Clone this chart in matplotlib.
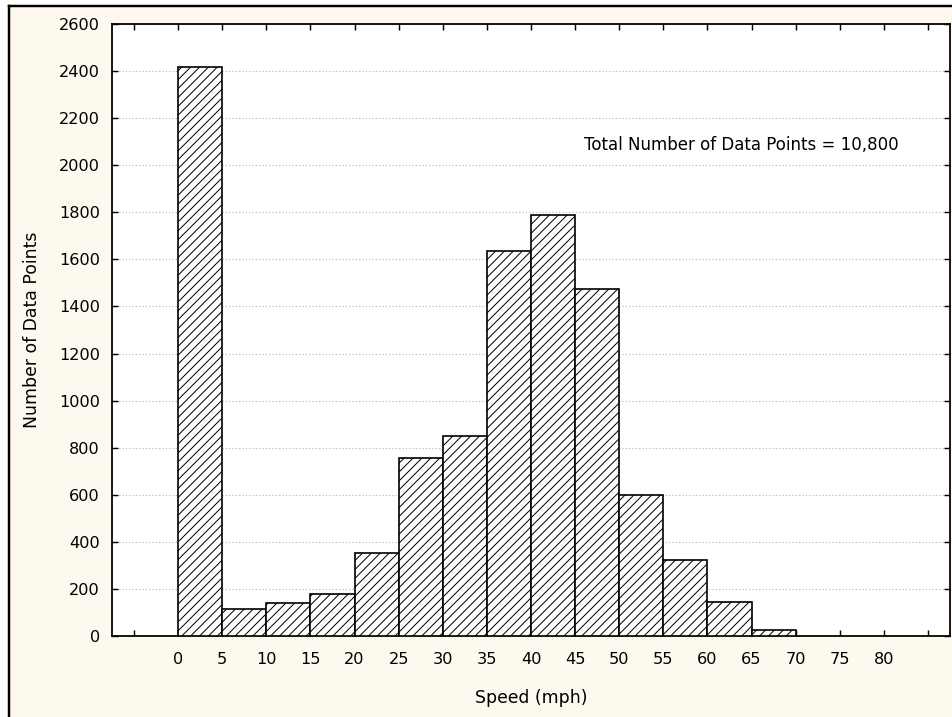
import numpy as np
import matplotlib
matplotlib.use('Agg')
import matplotlib.pyplot as plt
from matplotlib.lines import Line2D
from matplotlib.patches import Rectangle

# speed bins (mph), left edges, and counts
binLeft = [0, 5, 10, 15, 20, 25, 30, 35, 40, 45, 50, 55, 60, 65]
counts = [2418, 113, 139, 177, 351, 755, 849, 1636, 1787, 1473, 598, 321, 146, 25]
binWidth = 5
xTicks = list(range(-5, 90, 5))
xTickLabels = ['' if (t < 0 or t > 80) else str(t) for t in xTicks]
yTicks = list(range(0, 2601, 200))
noteText = 'Total Number of Data Points = 10,800'

plt.rcParams['font.family'] = ['DejaVu Sans']
plt.rcParams['hatch.linewidth'] = 0.9

fig = plt.figure(figsize=(952 / 80, 717 / 80), dpi=80, facecolor='white')

# cream panel with black top/left frame
fig.add_artist(Rectangle((9 / 952, 0), 1, 1 - 6 / 717, transform=fig.transFigure,
                         facecolor='#fdf9ee', edgecolor='none', zorder=-10))
fig.add_artist(Line2D([9 / 952, 1], [1 - 6 / 717, 1 - 6 / 717], transform=fig.transFigure,
                      color='black', linewidth=2.2, zorder=-5))
fig.add_artist(Line2D([9 / 952, 9 / 952], [0, 1 - 6 / 717], transform=fig.transFigure,
                      color='black', linewidth=2.2, zorder=-5))

ax = fig.add_axes([112 / 952, 1 - 636 / 717, (950 - 112) / 952, (636 - 24) / 717])
ax.set_facecolor('white')

ax.bar(binLeft, counts, width=binWidth, align='edge', color='white',
       edgecolor='black', linewidth=1.5, hatch='///', zorder=3)

ax.set_xlim(-7.5, 87.5)
ax.set_ylim(0, 2600)
ax.set_xticks(xTicks)
ax.set_xticklabels(xTickLabels)
ax.set_yticks(yTicks)

ax.yaxis.grid(True, linestyle=(0, (1, 2)), color='#b4b4b4', linewidth=1.0, zorder=0)
ax.set_axisbelow(True)

ax.tick_params(direction='in', length=5, width=1.3, top=True, right=True,
               labelsize=14.5, colors='black')
ax.tick_params(axis='x', pad=14)
ax.tick_params(axis='y', pad=11)
for sp in ax.spines.values():
    sp.set_linewidth(1.6)

ax.set_xlabel('Speed (mph)', fontsize=15.5, labelpad=20)
ax.set_ylabel('Number of Data Points', fontsize=15.5, labelpad=16)

ax.text(46, 2085, noteText, fontsize=15, va='center', ha='left')

fig.savefig('out.png', dpi=80, facecolor=fig.get_facecolor())
